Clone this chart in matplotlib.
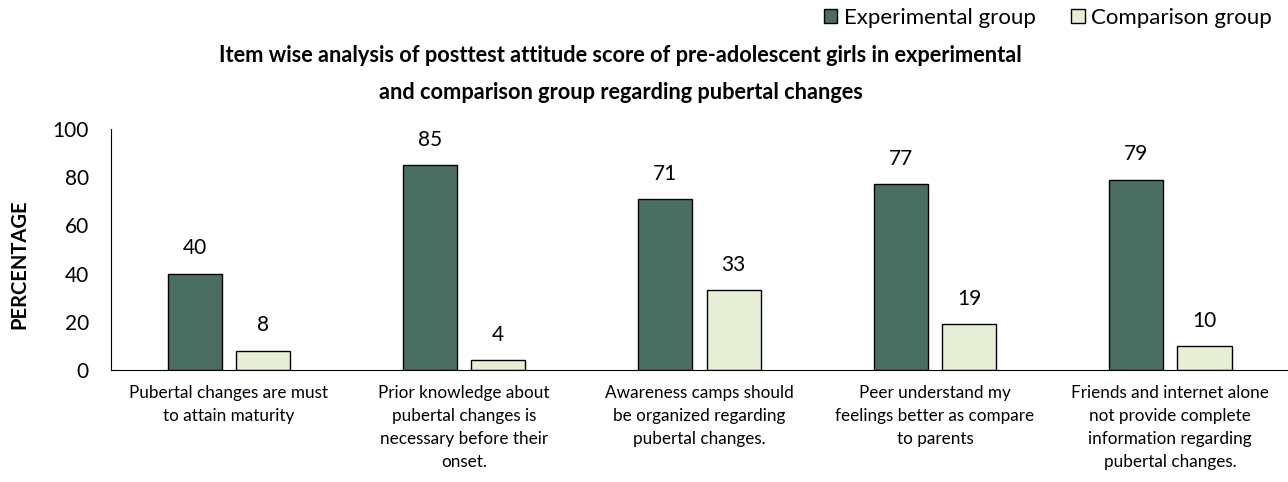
import matplotlib
matplotlib.use("Agg")
import matplotlib.pyplot as plt
import numpy as np
from matplotlib.patches import Patch

plt.rcParams['font.family'] = ['Lato', 'DejaVu Sans']

categories = [
    "Pubertal changes are must\nto attain maturity",
    "Prior knowledge about\npubertal changes is\nnecessary before their\nonset.",
    "Awareness camps should\nbe organized regarding\npubertal changes.",
    "Peer understand my\nfeelings better as compare\nto parents",
    "Friends and internet alone\nnot provide complete\ninformation regarding\npubertal changes.",
]
experimental = [40, 85, 71, 77, 79]
comparison = [8, 4, 33, 19, 10]
series_names = ["Experimental group", "Comparison group"]
yticks = [0, 20, 40, 60, 80, 100]
title = ("Item wise analysis of posttest attitude score of pre-adolescent girls in experimental\n"
         "and comparison group regarding pubertal changes")

c_exp = "#4a6f62"
c_cmp = "#e6eed6"

fig = plt.figure(figsize=(12.88, 4.82), dpi=100)
ax = fig.add_axes([0.0862, 0.2324, 0.9138, 0.5])

x = np.arange(len(categories))
w = 0.23
off = 0.145
b1 = ax.bar(x - off, experimental, w, color=c_exp, edgecolor="black", linewidth=1.0)
b2 = ax.bar(x + off, comparison, w, color=c_cmp, edgecolor="black", linewidth=1.0)

for bars, vals in ((b1, experimental), (b2, comparison)):
    for b, v in zip(bars, vals):
        ax.annotate(str(v), (b.get_x() + b.get_width() / 2, v), xytext=(0, 11),
                    textcoords="offset points", ha="center", va="bottom", fontsize=15)

ax.set_xlim(-0.5, len(categories) - 0.5)
ax.set_ylim(0, 100)
ax.set_yticks(yticks)
ax.tick_params(axis='y', length=0, labelsize=15, pad=16)
ax.set_xticks(x)
ax.set_xticklabels(categories, fontsize=12.3)
for t in ax.get_xticklabels():
    t.set_linespacing(1.52)
ax.tick_params(axis='x', length=0, pad=11)
for s in ("top", "right"):
    ax.spines[s].set_visible(False)
ax.spines["left"].set_color("black")
ax.spines["bottom"].set_color("black")
ax.set_ylabel("PERCENTAGE", fontsize=14.5, fontweight="bold")
ax.yaxis.set_label_coords(-0.0697, 0.44)

fig.text(0.482, 1 - 74 / 482, title, ha="center", va="center", fontsize=15.7,
         fontweight="bold", linespacing=1.9, multialignment="center")

handles = [Patch(facecolor=c_exp, edgecolor="black"), Patch(facecolor=c_cmp, edgecolor="black")]
fig.legend(handles, series_names, loc="center right", bbox_to_anchor=(0.9876, 1 - 18 / 482),
           ncol=2, frameon=False, fontsize=16, handlelength=0.6, handleheight=0.6,
           handletextpad=0.3, columnspacing=1.6, borderaxespad=0, borderpad=0)

fig.savefig("out.png", dpi=100)
